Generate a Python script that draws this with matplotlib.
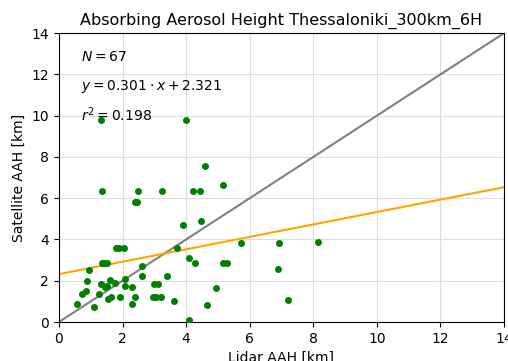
import matplotlib
matplotlib.use('Agg')
import matplotlib.pyplot as plt
import numpy as np

# lidar AAH (km)
lidar = [1.32, 4.00, 1.37, 2.49, 3.24, 4.22, 4.44, 5.15, 4.58, 2.40,
         2.47, 3.90, 4.46, 1.81, 1.89, 2.04, 3.71, 5.73, 6.91, 8.16,
         6.88, 7.22, 4.08, 4.27, 5.16, 5.28, 3.41, 2.99, 3.11, 2.95,
         3.06, 3.21, 3.62, 4.94, 4.65, 4.10, 1.34, 1.43, 1.52, 0.95,
         2.62, 2.61, 0.87, 0.72, 0.84, 0.56, 1.10, 1.27, 1.31, 1.44,
         1.52, 1.60, 1.55, 1.63, 1.76, 1.91, 2.09, 2.07, 2.30, 2.39,
         2.31]
# satellite AAH (km)
satellite = [9.79, 9.79, 6.35, 6.35, 6.35, 6.35, 6.35, 6.64, 7.57, 5.83,
             5.83, 4.72, 4.89, 3.59, 3.59, 3.59, 3.60, 3.81, 3.84, 3.89,
             2.55, 1.07, 3.12, 2.84, 2.84, 2.84, 2.21, 1.85, 1.85, 1.23,
             1.23, 1.23, 1.03, 1.63, 0.82, 0.12, 2.84, 2.84, 2.84, 2.53,
             2.72, 2.24, 1.97, 1.35, 1.50, 0.88, 0.74, 1.34, 1.85, 1.72,
             1.76, 2.02, 1.10, 1.23, 1.91, 1.23, 2.09, 1.73, 1.68, 1.23,
             0.86]

n_points = 67
slope = 0.301
intercept = 2.321
r2 = 0.198

fig = plt.figure(figsize=(5.08, 3.61), dpi=100)
ax = fig.add_axes([0.116, 0.108, 0.876, 0.8])

ax.grid(True, color='#dddddd', linewidth=0.8)
ax.set_axisbelow(True)

xx = np.array([0, 14])
ax.plot(xx, xx, color='gray', linewidth=1.5, zorder=2)
ax.plot(xx, slope * xx + intercept, color='orange', linewidth=1.5, zorder=2)
ax.scatter(lidar, satellite, color='green', s=16, zorder=3)

ax.set_xlim(0, 14)
ax.set_ylim(0, 14)
ax.set_xticks(range(0, 15, 2))
ax.set_yticks(range(0, 15, 2))
ax.tick_params(labelsize=10)

ax.set_title('Absorbing Aerosol Height Thessaloniki_300km_6H', fontsize=11.5)
ax.set_xlabel('Lidar AAH [km]', fontsize=10)
ax.set_ylabel('Satellite AAH [km]', fontsize=10)

ax.text(0.05, 0.917, r'$N = %d$' % n_points, transform=ax.transAxes,
        fontsize=10, va='center')
ax.text(0.05, 0.817, r'$y = %.3f \cdot x + %.3f$' % (slope, intercept),
        transform=ax.transAxes, fontsize=10, va='center')
ax.text(0.05, 0.717, r'$r^2 = %.3f$' % r2, transform=ax.transAxes,
        fontsize=10, va='center')

fig.savefig('out.png', dpi=100)
